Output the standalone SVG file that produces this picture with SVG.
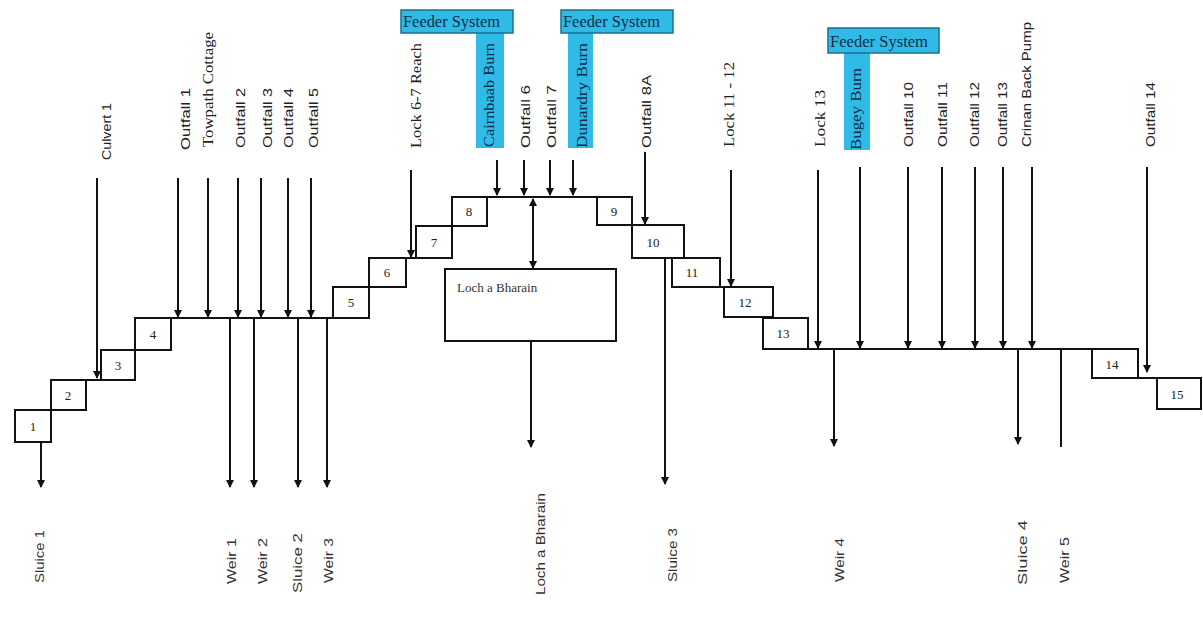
<svg xmlns="http://www.w3.org/2000/svg" width="1203" height="633" viewBox="0 0 1203 633">
<defs>
<marker id="ah" markerUnits="userSpaceOnUse" markerWidth="8" markerHeight="8" refX="7" refY="4" orient="auto-start-reverse">
<path d="M0,0 L8,4 L0,8 z" fill="#111"/>
</marker>
<style>
.bx{fill:#fff;stroke:#111;stroke-width:2}
.num{font-family:"Liberation Serif",serif;font-size:13px;fill:#222;text-anchor:middle;dominant-baseline:central}
.ln{stroke:#111;stroke-width:2;fill:none}
.ar{stroke:#111;stroke-width:2;fill:none;marker-end:url(#ah)}
.lbl{font-family:"Liberation Sans",Arial,sans-serif;font-size:13px;fill:#222}
.lbs{font-family:"Liberation Serif",serif;font-size:14px;fill:#222}
.bot{font-family:"Liberation Sans",Arial,sans-serif;font-size:13px;fill:#333}
.fb{fill:#2fbbe6;stroke:#1d6f8f;stroke-width:1.5}
.fs{fill:#2fbbe6}
.ft{font-family:"Liberation Serif",serif;font-size:16px;fill:#0d2d4d}
.st{font-family:"Liberation Serif",serif;font-size:14px;fill:#0d2d4d}
</style>
</defs>
<rect width="1203" height="633" fill="#fff"/>

<!-- feeder systems -->
<g id="feeder1">
<rect class="fs" x="476" y="33" width="28" height="115"/>
<rect class="fb" x="401" y="10" width="112" height="23"/>
<text class="ft" x="403" y="27" textLength="97" lengthAdjust="spacingAndGlyphs">Feeder System</text>
<text class="st" transform="translate(494,147) rotate(-90)" textLength="104" lengthAdjust="spacingAndGlyphs">Cairnbaab Burn</text>
</g>
<g id="feeder2">
<rect class="fs" x="568" y="33" width="25" height="115"/>
<rect class="fb" x="561" y="10" width="112" height="23"/>
<text class="ft" x="563" y="27" textLength="97" lengthAdjust="spacingAndGlyphs">Feeder System</text>
<text class="st" transform="translate(587,148) rotate(-90)" textLength="105" lengthAdjust="spacingAndGlyphs">Dunardry Burn</text>
</g>
<g id="feeder3">
<rect class="fs" x="844" y="53" width="26" height="97"/>
<rect class="fb" x="828" y="28" width="111" height="25"/>
<text class="ft" x="830" y="47" textLength="98" lengthAdjust="spacingAndGlyphs">Feeder System</text>
<text class="st" transform="translate(861,150) rotate(-90)" textLength="82" lengthAdjust="spacingAndGlyphs">Bugey Burn</text>
</g>

<!-- top labels -->
<g id="top-labels">
<text class="lbl" transform="translate(111,160) rotate(-90)" textLength="57" lengthAdjust="spacingAndGlyphs">Culvert 1</text>
<text class="lbl" transform="translate(190,150) rotate(-90)" textLength="62" lengthAdjust="spacingAndGlyphs">Outfall 1</text>
<text class="lbs" transform="translate(213,147) rotate(-90)" textLength="115" lengthAdjust="spacingAndGlyphs">Towpath Cottage</text>
<text class="lbl" transform="translate(245,148) rotate(-90)" textLength="60" lengthAdjust="spacingAndGlyphs">Outfall 2</text>
<text class="lbl" transform="translate(272,148) rotate(-90)" textLength="60" lengthAdjust="spacingAndGlyphs">Outfall 3</text>
<text class="lbl" transform="translate(293,148) rotate(-90)" textLength="60" lengthAdjust="spacingAndGlyphs">Outfall 4</text>
<text class="lbl" transform="translate(318,148) rotate(-90)" textLength="60" lengthAdjust="spacingAndGlyphs">Outfall 5</text>
<text class="lbs" transform="translate(421,148) rotate(-90)" textLength="105" lengthAdjust="spacingAndGlyphs">Lock 6-7 Reach</text>
<text class="lbl" transform="translate(530,148) rotate(-90)" textLength="63" lengthAdjust="spacingAndGlyphs">Outfall 6</text>
<text class="lbl" transform="translate(556,148) rotate(-90)" textLength="63" lengthAdjust="spacingAndGlyphs">Outfall 7</text>
<text class="lbl" transform="translate(651,148) rotate(-90)" textLength="73" lengthAdjust="spacingAndGlyphs">Outfall 8A</text>
<text class="lbs" transform="translate(734,147) rotate(-90)" textLength="85" lengthAdjust="spacingAndGlyphs">Lock 11 - 12</text>
<text class="lbs" transform="translate(825,147) rotate(-90)" textLength="57" lengthAdjust="spacingAndGlyphs">Lock 13</text>
<text class="lbl" transform="translate(913,147) rotate(-90)" textLength="65" lengthAdjust="spacingAndGlyphs">Outfall 10</text>
<text class="lbl" transform="translate(947,147) rotate(-90)" textLength="65" lengthAdjust="spacingAndGlyphs">Outfall 11</text>
<text class="lbl" transform="translate(979,147) rotate(-90)" textLength="65" lengthAdjust="spacingAndGlyphs">Outfall 12</text>
<text class="lbl" transform="translate(1007,147) rotate(-90)" textLength="65" lengthAdjust="spacingAndGlyphs">Outfall 13</text>
<text class="lbl" transform="translate(1031,147) rotate(-90)" textLength="125" lengthAdjust="spacingAndGlyphs">Crinan Back Pump</text>
<text class="lbl" transform="translate(1155,147) rotate(-90)" textLength="65" lengthAdjust="spacingAndGlyphs">Outfall 14</text>
</g>

<!-- bottom labels -->
<g id="bottom-labels">
<text class="bot" transform="translate(44,583) rotate(-90)" textLength="53" lengthAdjust="spacingAndGlyphs">Sluice 1</text>
<text class="bot" transform="translate(236,584) rotate(-90)" textLength="46" lengthAdjust="spacingAndGlyphs">Weir 1</text>
<text class="bot" transform="translate(267,584) rotate(-90)" textLength="46" lengthAdjust="spacingAndGlyphs">Weir 2</text>
<text class="bot" transform="translate(302,593) rotate(-90)" textLength="60" lengthAdjust="spacingAndGlyphs">Sluice 2</text>
<text class="bot" transform="translate(333,583) rotate(-90)" textLength="45" lengthAdjust="spacingAndGlyphs">Weir 3</text>
<text class="bot" transform="translate(545,595) rotate(-90)" textLength="102" lengthAdjust="spacingAndGlyphs">Loch a Bharain</text>
<text class="bot" transform="translate(677,582) rotate(-90)" textLength="54" lengthAdjust="spacingAndGlyphs">Sluice 3</text>
<text class="bot" transform="translate(844,582) rotate(-90)" textLength="44" lengthAdjust="spacingAndGlyphs">Weir 4</text>
<text class="bot" transform="translate(1027,585) rotate(-90)" textLength="65" lengthAdjust="spacingAndGlyphs">Sluice 4</text>
<text class="bot" transform="translate(1069,583) rotate(-90)" textLength="46" lengthAdjust="spacingAndGlyphs">Weir 5</text>
</g>

<!-- connectors -->
<g id="connectors">
<line class="ln" x1="86" y1="380" x2="101" y2="380"/>
<line class="ln" x1="171" y1="318" x2="333" y2="318"/>
<line class="ln" x1="406" y1="258" x2="416" y2="258"/>
<line class="ln" x1="487" y1="197" x2="597" y2="197"/>
<line class="ln" x1="720" y1="287" x2="724" y2="287"/>
<line class="ln" x1="808" y1="349" x2="1092" y2="349"/>
<line class="ln" x1="1138" y1="378" x2="1157" y2="378"/>

<line class="ar" x1="97" y1="178" x2="97" y2="378"/>
<line class="ar" x1="178" y1="178" x2="178" y2="317"/>
<line class="ar" x1="208" y1="178" x2="208" y2="317"/>
<line class="ar" x1="238" y1="178" x2="238" y2="317"/>
<line class="ar" x1="261" y1="178" x2="261" y2="317"/>
<line class="ar" x1="288" y1="178" x2="288" y2="317"/>
<line class="ar" x1="311" y1="178" x2="311" y2="317"/>
<line class="ar" x1="411" y1="170" x2="411" y2="257"/>
<line class="ar" x1="497" y1="160" x2="497" y2="195"/>
<line class="ar" x1="524" y1="160" x2="524" y2="195"/>
<line class="ar" x1="550" y1="160" x2="550" y2="195"/>
<line class="ar" x1="573" y1="160" x2="573" y2="195"/>
<line class="ar" x1="645" y1="152" x2="645" y2="224"/>
<line class="ar" x1="731" y1="170" x2="731" y2="286"/>
<line class="ar" x1="818" y1="170" x2="818" y2="348"/>
<line class="ar" x1="860" y1="167" x2="860" y2="348"/>
<line class="ar" x1="908" y1="167" x2="908" y2="348"/>
<line class="ar" x1="942" y1="167" x2="942" y2="348"/>
<line class="ar" x1="975" y1="167" x2="975" y2="348"/>
<line class="ar" x1="1003" y1="167" x2="1003" y2="348"/>
<line class="ar" x1="1032" y1="167" x2="1032" y2="348"/>
<line class="ar" x1="1147" y1="167" x2="1147" y2="372"/>

<line class="ar" x1="41" y1="442" x2="41" y2="487"/>
<line class="ar" x1="230" y1="318" x2="230" y2="487"/>
<line class="ar" x1="254" y1="318" x2="254" y2="487"/>
<line class="ar" x1="298" y1="318" x2="298" y2="487"/>
<line class="ar" x1="327" y1="318" x2="327" y2="487"/>
<line class="ar" x1="533" y1="199" x2="533" y2="268" marker-start="url(#ah)"/>
<line class="ar" x1="531" y1="341" x2="531" y2="447"/>
<line class="ar" x1="665" y1="258" x2="665" y2="484"/>
<line class="ar" x1="834" y1="349" x2="834" y2="446"/>
<line class="ar" x1="1018" y1="349" x2="1018" y2="444"/>
<line class="ln" x1="1061" y1="349" x2="1061" y2="447"/>
</g>

<!-- lock boxes -->
<g id="lock1"><rect class="bx" x="15" y="410" width="36" height="32"/><text class="num" x="33" y="426">1</text></g>
<g id="lock2"><rect class="bx" x="51" y="380" width="35" height="30"/><text class="num" x="68" y="395">2</text></g>
<g id="lock3"><rect class="bx" x="101" y="350" width="34" height="30"/><text class="num" x="118" y="365">3</text></g>
<g id="lock4"><rect class="bx" x="135" y="318" width="36" height="32"/><text class="num" x="153" y="334">4</text></g>
<g id="lock5"><rect class="bx" x="333" y="287" width="36" height="31"/><text class="num" x="351" y="302">5</text></g>
<g id="lock6"><rect class="bx" x="369" y="258" width="37" height="29"/><text class="num" x="387" y="272">6</text></g>
<g id="lock7"><rect class="bx" x="416" y="226" width="36" height="32"/><text class="num" x="434" y="242">7</text></g>
<g id="lock8"><rect class="bx" x="452" y="197" width="35" height="29"/><text class="num" x="469" y="211">8</text></g>
<g id="lock9"><rect class="bx" x="597" y="197" width="35" height="28"/><text class="num" x="614" y="211">9</text></g>
<g id="lock10"><rect class="bx" x="632" y="225" width="52" height="33"/><text class="num" x="653" y="242">10</text></g>
<g id="lock11"><rect class="bx" x="672" y="258" width="48" height="29"/><text class="num" x="692" y="272">11</text></g>
<g id="lock12"><rect class="bx" x="724" y="287" width="49" height="30"/><text class="num" x="745" y="302">12</text></g>
<g id="lock13"><rect class="bx" x="763" y="318" width="45" height="31"/><text class="num" x="783" y="333">13</text></g>
<g id="lock14"><rect class="bx" x="1092" y="349" width="46" height="29"/><text class="num" x="1112" y="364">14</text></g>
<g id="lock15"><rect class="bx" x="1157" y="378" width="44" height="31"/><text class="num" x="1177" y="394">15</text></g>

<g id="loch">
<rect class="bx" x="445" y="269" width="171" height="72"/>
<text x="457" y="292" font-family="Liberation Serif, serif" font-size="13" fill="#333">Loch a Bharain</text>
</g>
</svg>
